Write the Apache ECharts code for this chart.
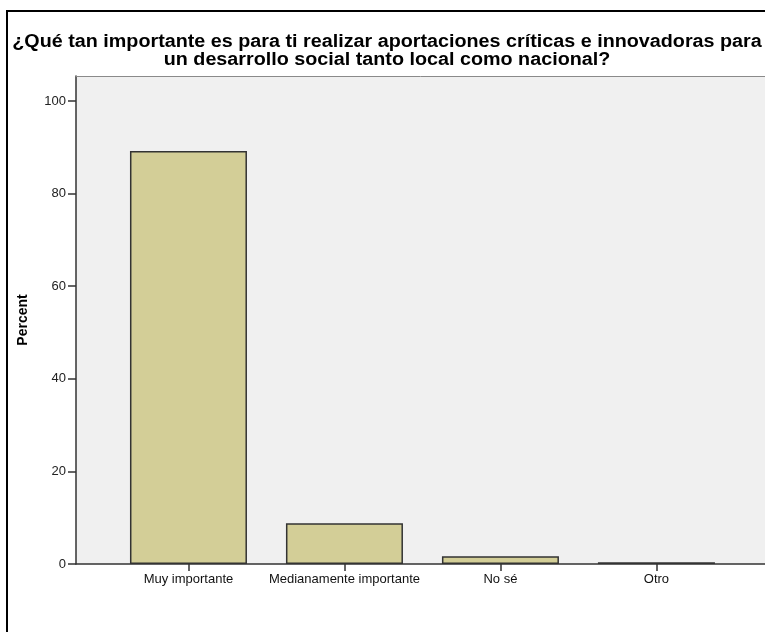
<!DOCTYPE html>
<html>
<head>
<meta charset="utf-8">
<script src="https://cdn.jsdelivr.net/npm/echarts@6/dist/echarts.min.js"></script>
<style>html,body{margin:0;padding:0;background:#fff}#c{width:765px;height:632px}</style>
</head>
<body>
<div id="c"></div>
<script>
var titleText = "¿Qué tan importante es para ti realizar aportaciones críticas e innovadoras para\nun desarrollo social tanto local como nacional?";
var categories = ["Muy importante", "Medianamente importante", "No sé", "Otro"];
var percentValues = [89.2, 8.8, 1.7, 0.4];
var yTicks = [0, 20, 40, 60, 80, 100];
var yAxisName = "Percent";

var chart = echarts.init(document.getElementById('c'), null, {renderer: 'canvas'});
var barData = percentValues.map(function (v, i) { return [i, v]; });
var catIdx = categories.map(function (c, i) { return i; });

chart.setOption({
  animation: false,
  backgroundColor: '#ffffff',
  graphic: [{
    type: 'rect',
    shape: {x: 7, y: 11, width: 900, height: 800},
    style: {fill: 'none', stroke: '#000', lineWidth: 2},
    silent: true,
    z: 100
  }, {
    type: 'text',
    x: 387,
    y: 33,
    scaleX: 1.097,
    silent: true,
    z: 100,
    style: {
      text: titleText,
      align: 'center',
      verticalAlign: 'top',
      fontFamily: 'Liberation Sans, Arial, sans-serif',
      fontSize: 18,
      fontWeight: 'bold',
      lineHeight: 18,
      fill: '#000'
    }
  }],
  grid: {
    left: 76, right: 0, top: 76, bottom: 68,
    show: true,
    backgroundColor: '#f0f0f0',
    borderWidth: 0
  },
  xAxis: [{
    type: 'value',
    min: -0.721,
    max: 3.696,
    splitLine: {show: false},
    axisLine: {show: true, onZero: false, lineStyle: {color: '#333', width: 1.5}},
    axisTick: {show: true, customValues: catIdx, length: 7, lineStyle: {color: '#333', width: 1.5}},
    axisLabel: {
      customValues: catIdx,
      formatter: function (v) { return categories[Math.round(v)] || ''; },
      fontFamily: 'Liberation Sans, Arial, sans-serif',
      fontSize: 13,
      color: '#111',
      margin: 9
    }
  }, {
    type: 'value',
    position: 'top',
    min: -0.721,
    max: 3.696,
    splitLine: {show: false},
    axisLine: {show: true, onZero: false, lineStyle: {color: '#8a8a8a', width: 1}},
    axisTick: {show: false},
    axisLabel: {show: false}
  }],
  yAxis: {
    type: 'value',
    min: 0,
    max: 105.4,
    name: yAxisName,
    nameLocation: 'middle',
    nameRotate: 90,
    nameGap: 46,
    nameTextStyle: {
      fontFamily: 'Liberation Sans, Arial, sans-serif',
      fontSize: 14,
      fontWeight: 'bold',
      color: '#000'
    },
    splitLine: {show: false},
    axisLine: {show: true, onZero: false, lineStyle: {color: '#333', width: 1.5}},
    axisTick: {show: true, customValues: yTicks, length: 8, lineStyle: {color: '#333', width: 1.5}},
    axisLabel: {
      customValues: yTicks,
      fontFamily: 'Liberation Sans, Arial, sans-serif',
      fontSize: 13,
      color: '#222',
      margin: 10
    }
  },
  series: [{
    type: 'bar',
    data: barData,
    barWidth: 117,
    itemStyle: {color: '#d3ce97', borderColor: '#333', borderWidth: 1.5}
  }]
});
</script>
</body>
</html>
